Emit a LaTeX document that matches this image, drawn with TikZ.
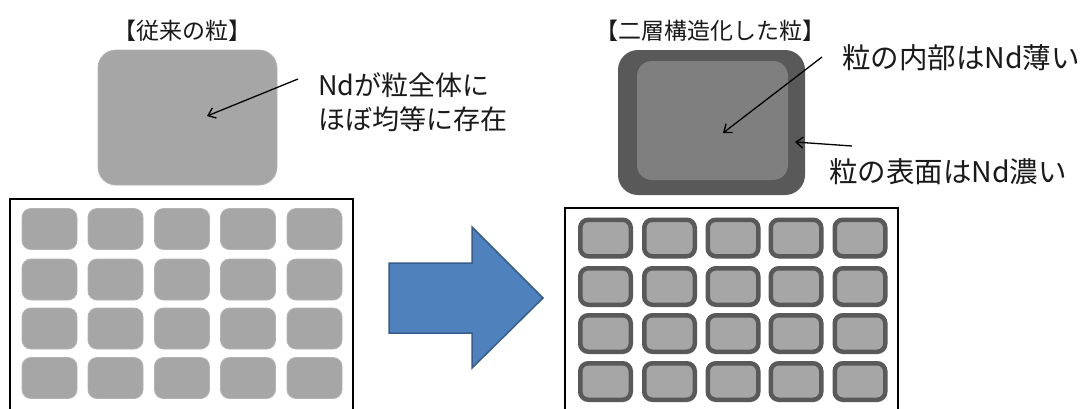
\documentclass[tikz,border=0pt]{standalone}
\usepackage{fontspec}
\setmainfont{Noto Sans CJK JP}
\usetikzlibrary{arrows.meta}
\definecolor{grainfill}{HTML}{A6A6A6}
\definecolor{shell}{HTML}{595959}
\definecolor{core}{HTML}{7F7F7F}
\definecolor{bluefill}{HTML}{4F81BD}
\definecolor{blueline}{HTML}{385D8A}
\definecolor{txt}{HTML}{1A1A1A}
\tikzset{
  oldgrain/.style={fill=grainfill, draw=grainfill!85!white, line width=0.8pt, rounded corners=9pt, inner sep=0pt, minimum width=55pt, minimum height=41pt},
  newgrain/.style={fill=grainfill, draw=shell, line width=4.5pt, rounded corners=8pt, inner sep=0pt, minimum width=50.5pt, minimum height=36.5pt},
  frame/.style={draw=black, line width=2.5pt},
  title/.style={font=\fontsize{23}{26}\selectfont, text=txt, inner sep=0pt},
  label/.style={font=\fontsize{27}{36}\selectfont, text=txt, inner sep=0pt, anchor=west},
  rlabel/.style={font=\fontsize{28.5}{36}\selectfont, text=txt, inner sep=0pt, anchor=west},
  pointer/.style={draw=black, line width=1.3pt, -{Straight Barb[length=7pt,width=11pt,line width=1.3pt]}},
}
\begin{document}
\begin{tikzpicture}[x=1pt,y=-1pt]
\useasboundingbox (0,0) rectangle (1087,408);
\clip (0,0) rectangle (1087,408);
\fill[white] (0,0) rectangle (1087,408);

% titles
\node[title] (t1) at (182,31) {【従来の粒】};
\node[title] (t2) at (710,31) {【二層構造化した粒】};

% left big grain
\node[fill=grainfill, draw=grainfill!85!white, line width=0.8pt, rounded corners=18pt, inner sep=0pt,
      minimum width=179pt, minimum height=135pt] (bigold) at (187.5,117.5) {};

% right big grain
\node[fill=shell, rounded corners=20pt, inner sep=0pt, minimum width=187pt, minimum height=145pt] (bignew) at (711.5,122.5) {};
\node[fill=core, rounded corners=15pt, inner sep=0pt, minimum width=151pt, minimum height=119pt] (bigcore) at (712.5,120.5) {};

% labels
\node[label] (l1) at (318,85) {Ndが粒全体に};
\node[label] (l2) at (318,119) {ほぼ均等に存在};
\node[rlabel] (r1) at (842,58) {粒の内部はNd薄い};
\node[rlabel] (r2) at (829,172) {粒の表面はNd濃い};

% pointers
\coordinate (p1s) at (298,79);
\coordinate (p1e) at (207,116);
\draw[pointer] (p1s) -- (p1e);
\coordinate (p2s) at (822,57);
\coordinate (p2e) at (723,133);
\draw[pointer] (p2s) -- (p2e);
\coordinate (p3s) at (852,146);
\coordinate (p3e) at (795,142);
\draw[pointer] (p3s) -- (p3e);

% frames
\draw[frame] (10,199) rectangle (353,420);
\draw[frame] (565,208) rectangle (898,420);

% old grains grid
\foreach \r/\y in {1/229,2/279.5,3/328.5,4/378}{
  \foreach \c/\x in {1/49.5,2/115.5,3/182,4/248,5/314.5}{
    \node[oldgrain] (o\r\c) at (\x,\y) {};
  }
}

% new grains grid
\foreach \r/\y in {1/238,2/286.5,3/333.5,4/381.5}{
  \foreach \c/\x in {1/605.5,2/669.5,3/733,4/796,5/860}{
    \node[newgrain] (n\r\c) at (\x,\y) {};
  }
}

% big blue arrow
\draw[fill=bluefill, draw=blueline, line width=1.5pt, line join=miter]
  (389,263) -- (472,263) -- (472,227) -- (543,298) -- (472,368) -- (472,333) -- (389,333) -- cycle;
\end{tikzpicture}
\end{document}
